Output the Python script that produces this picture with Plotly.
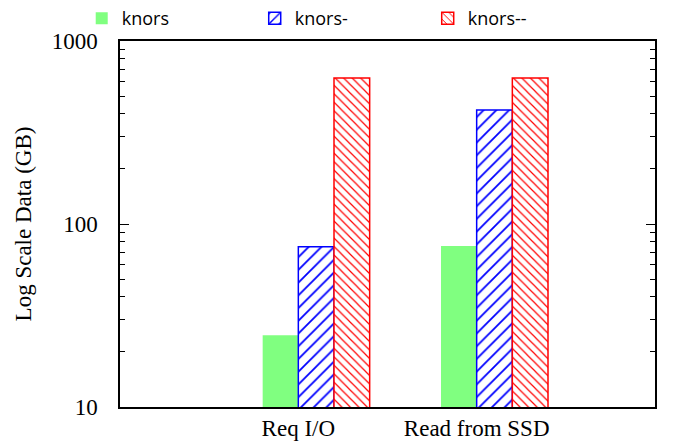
import plotly.graph_objects as go

categories = ["Req I/O", "Read from SSD"]
series_names = ["knors", "knors-", "knors--"]
knors = [24.7, 75.8]
knors_minus = [75, 420]
knors_minus2 = [628, 628]

cat_pos = [1, 2]
colors = ["#80ff80", "#0000ff", "#ff0000"]
patterns = ["", "/", "\\"]
pattern_sizes = [8, 9, 6]
offsets = [-0.2, 0.0, 0.2]
values = [knors, knors_minus, knors_minus2]

fig = go.Figure()
for name, vals, col, pat, psz, off in zip(series_names, values, colors, patterns, pattern_sizes, offsets):
    if pat:
        marker = dict(color="white", line=dict(color=col, width=1.5),
                      pattern=dict(shape=pat, fgcolor=col, bgcolor="white", fgopacity=1,
                                   size=psz, solidity=0.2, fillmode="replace"))
    else:
        marker = dict(color=col, line=dict(color=col, width=0))
    fig.add_trace(go.Bar(x=cat_pos, y=vals, name=name, width=0.2, offset=off, marker=marker))

serif = "Liberation Serif"
fig.update_layout(
    width=681, height=444,
    margin=dict(l=120, r=26, t=41, b=37, autoexpand=False),
    plot_bgcolor="white", paper_bgcolor="white",
    barmode="overlay",
    showlegend=True,
    legend=dict(orientation="h", xref="container", yref="container",
                x=0.12, xanchor="left", y=1.0, yanchor="top",
                font=dict(family="Open Sans", size=18, color="black"),
                entrywidth=128, entrywidthmode="pixels", itemwidth=30,
                bgcolor="rgba(0,0,0,0)"),
    xaxis=dict(range=[0, 3], tickvals=cat_pos, ticktext=categories, ticks="",
               showline=True, linecolor="black", linewidth=1.5, mirror=True,
               showgrid=False, zeroline=False, ticklabelstandoff=0,
               tickfont=dict(family=serif, size=23, color="black")),
    yaxis=dict(type="log", range=[1, 3], tickvals=[10, 100, 1000], ticktext=["10", "100", "1000"],
               ticks="inside", ticklen=9, tickwidth=1.2, tickcolor="black",
               minor=dict(tickvals=[20, 30, 40, 50, 60, 70, 80, 90, 200, 300, 400, 500, 600, 700, 800, 900],
                          ticks="inside", ticklen=5, tickwidth=1, tickcolor="black"),
               showline=True, linecolor="black", linewidth=1.5, mirror="allticks",
               showgrid=False, zeroline=False, ticklabelstandoff=16,
               tickfont=dict(family=serif, size=23, color="black"),
               title=dict(text="Log Scale Data (GB)", font=dict(family=serif, size=23, color="black"), standoff=14)),
)

fig.write_html("out.html")
